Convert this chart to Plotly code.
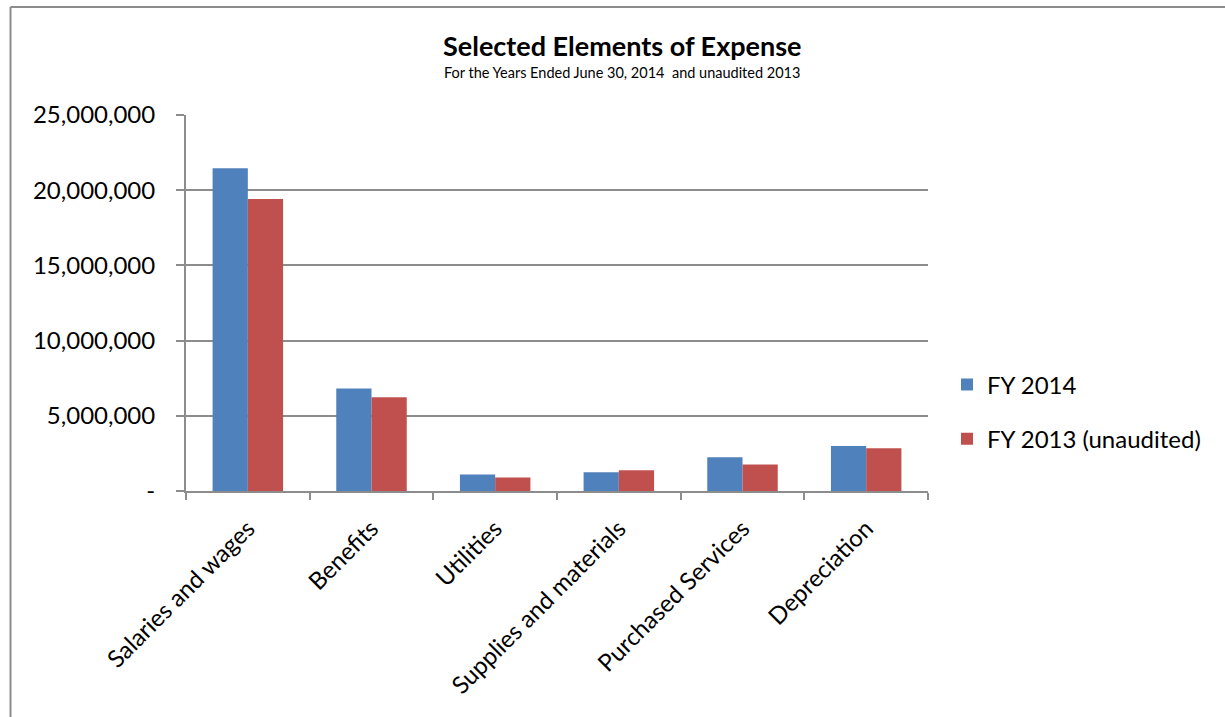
import plotly.graph_objects as go

categories = ["Salaries and wages", "Benefits", "Utilities", "Supplies and materials",
              "Purchased Services", "Depreciation"]
fy2014 = [21460000, 6820000, 1090000, 1240000, 2240000, 3000000]
fy2013 = [19420000, 6240000, 890000, 1380000, 1760000, 2840000]
y_tickvals = [0, 5000000, 10000000, 15000000, 20000000, 25000000]
y_ticktext = ["-", "5,000,000", "10,000,000", "15,000,000", "20,000,000", "25,000,000"]

W, H = 1225, 717
L, R, T, B = 186, 928, 115, 491
FONT = "Lato"
GRID = "#8c8c8c"

fig = go.Figure()
fig.add_trace(go.Bar(x=categories, y=fy2014, name="FY 2014", marker_color="#4F81BD",
                     marker_line_width=0, legendgroup="a"))
fig.add_trace(go.Bar(x=categories, y=fy2013, name="FY 2013 (unaudited)", marker_color="#C0504D",
                     marker_line_width=0, legendgroup="b"))

def px2x(px):
    return (px - L) / (R - L)

def py2y(py):
    return (B - py) / (B - T)

fig.update_layout(
    width=W, height=H,
    margin=dict(l=L, r=W - R, t=T, b=H - B, autoexpand=False),
    paper_bgcolor="white", plot_bgcolor="white",
    barmode="group", bargap=0.43, bargroupgap=0,
    font=dict(family=FONT, color="black", size=22),
    showlegend=True,
    legend=dict(x=px2x(947), y=py2y(412), xanchor="left", yanchor="middle",
                font=dict(size=24, family=FONT), tracegroupgap=20,
                itemwidth=30, bgcolor="rgba(0,0,0,0)"),
    xaxis=dict(type="category", tickson="boundaries", ticks="outside", ticklen=7,
               tickcolor=GRID, tickwidth=2, showline=True, linecolor=GRID, linewidth=2,
               tickangle=-45, tickfont=dict(size=24, family=FONT), showgrid=False,
               ticklabelstandoff=12),
    yaxis=dict(range=[0, 25000000], tickvals=y_tickvals, ticktext=y_ticktext,
               ticks="outside", ticklen=8, tickcolor=GRID, tickwidth=2,
               showline=True, linecolor=GRID, linewidth=2,
               showgrid=True, gridcolor=GRID, gridwidth=2,
               tickfont=dict(size=24, family=FONT), ticklabelstandoff=16,
               zeroline=False),
    annotations=[
        dict(text="<b>Selected Elements of Expense</b>", xref="paper", yref="paper",
             x=px2x(622), y=py2y(45), xanchor="center", yanchor="middle",
             showarrow=False, font=dict(size=27, family=FONT)),
        dict(text="For the Years Ended June 30, 2014  and unaudited 2013", xref="paper", yref="paper",
             x=px2x(622), y=py2y(72), xanchor="center", yanchor="middle",
             showarrow=False, font=dict(size=14.5, family=FONT)),
    ],
    shapes=[
        dict(type="line", xref="paper", yref="paper", x0=px2x(10.5), x1=px2x(1230),
             y0=py2y(7), y1=py2y(7), line=dict(color="#8c8c8c", width=2)),
        dict(type="line", xref="paper", yref="paper", x0=px2x(10.5), x1=px2x(10.5),
             y0=py2y(7), y1=py2y(720), line=dict(color="#8c8c8c", width=2)),
    ],
)

fig.write_html("out.html", config={"displayModeBar": False},
               post_script="document.body.style.margin='0';document.body.style.overflow='hidden';")
